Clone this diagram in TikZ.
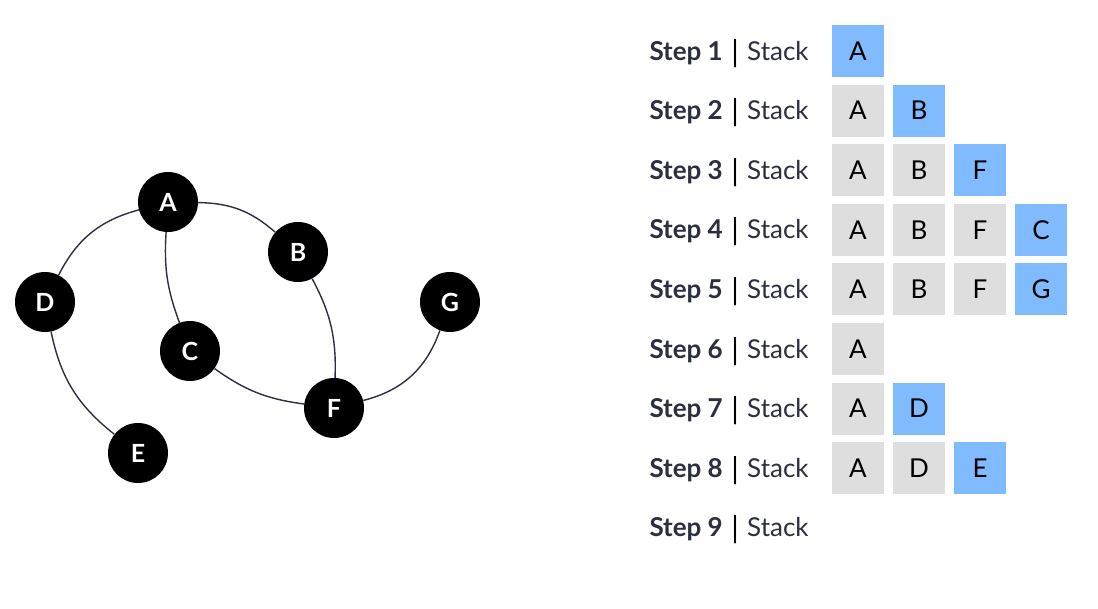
\documentclass[tikz,border=0pt]{standalone}
\usepackage{fontspec}
\setmainfont{Lato}
\definecolor{navy}{HTML}{2B2F40}
\definecolor{stackblue}{HTML}{80BBFF}
\definecolor{stackgray}{HTML}{DEDEDE}
\definecolor{edgecol}{HTML}{2B2F40}
\begin{document}
\begin{tikzpicture}[x=1pt,y=-1pt,
  vertex/.style={circle,fill=black,minimum size=60pt,inner sep=0pt,text=white,font=\fontsize{25}{25}\selectfont\bfseries},
  edge/.style={draw=edgecol,line width=1.4pt},
  cell/.style={minimum size=52pt,inner sep=0pt,text=black,font=\fontsize{26}{26}\selectfont},
  gcell/.style={cell,fill=stackgray},
  bcell/.style={cell,fill=stackblue},
  steplbl/.style={anchor=base east,inner sep=0pt,text=navy,font=\fontsize{26}{26}\selectfont\bfseries},
  stacklbl/.style={anchor=base west,inner sep=0pt,text=navy,font=\fontsize{26}{26}\selectfont},
  barlbl/.style={anchor=base,inner sep=0pt,text=black,font=\fontsize{30}{30}\selectfont}
]
\useasboundingbox (0,0) rectangle (1098,608);
% graph
\node[vertex] (A) at (168,202) {A};
\node[vertex] (B) at (298,252) {B};
\node[vertex] (C) at (190,351) {C};
\node[vertex] (D) at (45,302) {D};
\node[vertex] (E) at (138,453) {E};
\node[vertex] (F) at (334,408) {F};
\node[vertex] (G) at (450,302) {G};
\draw[edge] (A) to[bend right=24] (D);
\draw[edge] (A) to[bend left=20] (B);
\draw[edge] (A) to[bend right=12] (C);
\draw[edge] (B) to[bend left=15] (F);
\draw[edge] (C) to[bend right=14] (F);
\draw[edge] (F) to[bend right=28] (G);
\draw[edge] (D) to[bend right=20] (E);
% stack rows
\foreach \i/\yy in {1/51,2/110.6,3/170.2,4/229.8,5/289.4,6/349,7/408.6,8/468.2,9/527.8}{
  \node[steplbl] (s\i) at (723,\yy+9) {Step \i};
  \node[barlbl] (bar\i) at (735,\yy+11) {|};
  \node[stacklbl] (k\i) at (747,\yy+9) {Stack};
}
% cells
\node[bcell] (c11) at (858,51) {A};
\node[gcell] (c21) at (858,110.6) {A};
\node[bcell] (c22) at (919,110.6) {B};
\node[gcell] (c31) at (858,170.2) {A};
\node[gcell] (c32) at (919,170.2) {B};
\node[bcell] (c33) at (980,170.2) {F};
\node[gcell] (c41) at (858,229.8) {A};
\node[gcell] (c42) at (919,229.8) {B};
\node[gcell] (c43) at (980,229.8) {F};
\node[bcell] (c44) at (1041,229.8) {C};
\node[gcell] (c51) at (858,289.4) {A};
\node[gcell] (c52) at (919,289.4) {B};
\node[gcell] (c53) at (980,289.4) {F};
\node[bcell] (c54) at (1041,289.4) {G};
\node[gcell] (c61) at (858,349) {A};
\node[gcell] (c71) at (858,408.6) {A};
\node[bcell] (c72) at (919,408.6) {D};
\node[gcell] (c81) at (858,468.2) {A};
\node[gcell] (c82) at (919,468.2) {D};
\node[bcell] (c83) at (980,468.2) {E};
\end{tikzpicture}
\end{document}
